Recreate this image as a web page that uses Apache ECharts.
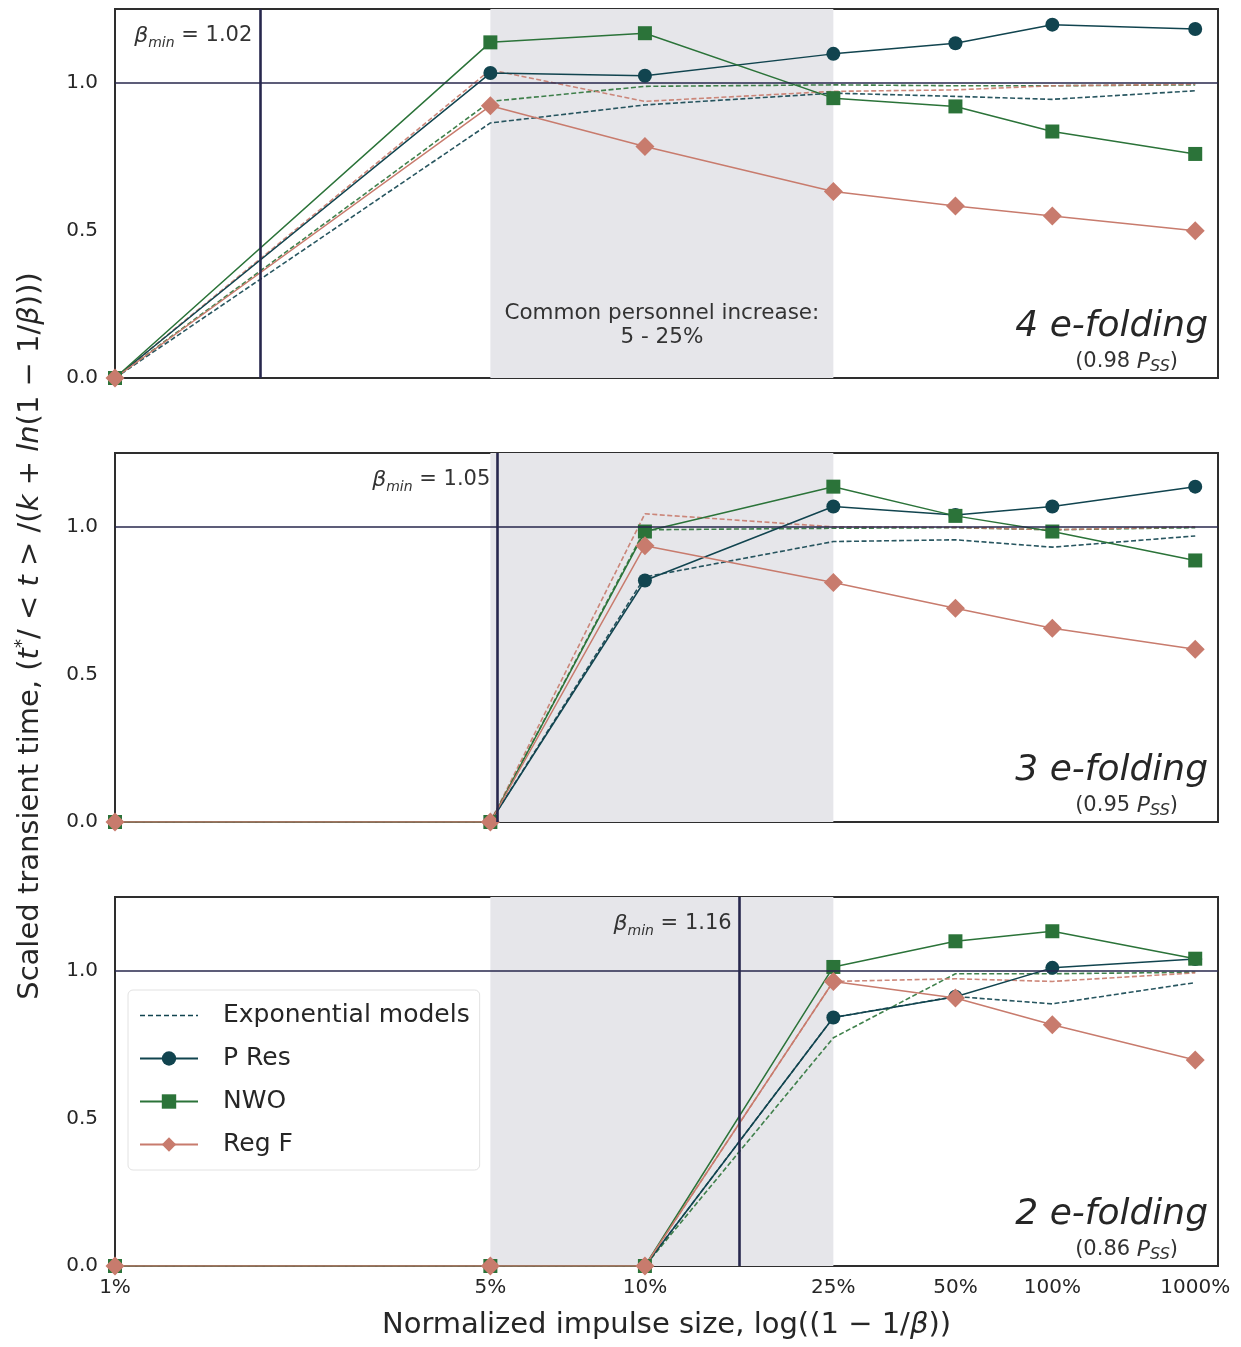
<!DOCTYPE html>
<html>
<head>
<meta charset="utf-8">
<script src="https://cdn.jsdelivr.net/npm/echarts@6/dist/echarts.min.js"></script>
<style>
  html, body { margin: 0; padding: 0; background: #fff; }
  #main { width: 1241px; height: 1347px; }
</style>
</head>
<body>
<div id="main"></div>
<script>
// impulse sizes (fraction) and their tick labels
var impulse = [0.01, 0.05, 0.10, 0.25, 0.50, 1.00, 10.0];
var tickLabels = ['1%', '5%', '10%', '25%', '50%', '100%', '1000%'];
var panelNames = ['4 e-folding', '3 e-folding', '2 e-folding'];
var panelPss = ['0.98', '0.95', '0.86'];
var betaMin = [1.0186, 1.052, 1.157];
var betaMinLabels = ['1.02', '1.05', '1.16'];

// one row per panel (4, 3, 2 e-folding)
var pRes = [
  [0, 1.033, 1.024, 1.098, 1.134, 1.197, 1.182],
  [0, 0, 0.818, 1.069, 1.040, 1.069, 1.136],
  [0, 0, 0, 0.842, 0.912, 1.010, 1.040]
];
var nwo = [
  [0, 1.137, 1.168, 0.948, 0.920, 0.835, 0.759],
  [0, 0, 0.984, 1.136, 1.037, 0.984, 0.886],
  [0, 0, 0, 1.013, 1.100, 1.134, 1.041]
];
var regF = [
  [0, 0.922, 0.784, 0.632, 0.583, 0.549, 0.499],
  [0, 0, 0.936, 0.811, 0.724, 0.656, 0.585],
  [0, 0, 0, 0.964, 0.908, 0.817, 0.698]
];
var expPRes = [
  [0, 0.864, 0.925, 0.965, 0.954, 0.944, 0.973],
  [0, 0, 0.830, 0.950, 0.956, 0.931, 0.969],
  [0, 0, 0, 0.842, 0.913, 0.888, 0.960]
];
var expNwo = [
  [0, 0.937, 0.988, 0.993, 0.990, 0.990, 0.993],
  [0, 0, 0.990, 0.995, 0.997, 0.990, 0.997],
  [0, 0, 0, 0.773, 0.990, 0.990, 0.995]
];
var expRegF = [
  [0, 1.044, 0.937, 0.971, 0.976, 0.990, 0.995],
  [0, 0, 1.044, 1.000, 0.998, 0.990, 1.000],
  [0, 0, 0, 0.964, 0.973, 0.964, 0.993]
];

var C_PRES = '#11444f', C_NWO = '#2b7339', C_REGF = '#c87b6d';
var C_REF = '#27274d', TXT = '#262626';
var FONT = '"DejaVu Sans", sans-serif';

// x axis is log10(1 - 1/beta), beta = 1 + impulse
var xs = impulse.map(function (p) { return Math.log10(1 - 1 / (1 + p)); });
var xMin = xs[0], xMax = 0;

function pairs(vals) {
  return vals.map(function (v, i) { return [xs[i], v]; });
}

// dashed legend sample for the model curves
var dashIcon = 'path://M0,0h0.01v0.01h-0.01z M0,6h5v1.6h-5z M8,6h5v1.6h-5z M16,6h5v1.6h-5z M24,6h5v1.6h-5z' +
  ' M32,6h5v1.6h-5z M40,6h5v1.6h-5z M48,6h5v1.6h-5z M56,6h2v1.6h-2z M57.99,13.6h0.01v0.01h-0.01z';

var gridTops = [9, 453, 897];
var grids = [], xAxes = [], yAxes = [], series = [];

gridTops.forEach(function (top, i) {
  grids.push({
    left: 115, top: top, width: 1103, height: 369,
    show: true, borderColor: '#2e2e2e', borderWidth: 2, backgroundColor: 'transparent'
  });
  xAxes.push({
    gridIndex: i, type: 'value', min: xMin, max: xMax,
    axisLine: { show: false }, axisTick: { show: false }, splitLine: { show: false },
    axisLabel: {
      show: i === 2, customValues: xs, fontSize: 20, color: TXT, fontFamily: FONT, margin: 12,
      formatter: function (v) {
        var best = 0;
        xs.forEach(function (x, k) { if (Math.abs(x - v) < Math.abs(xs[best] - v)) best = k; });
        return tickLabels[best];
      }
    },
    name: i === 2 ? '{n|Normalized impulse size, log((1 − 1/}{i|β}{n|))}' : '',
    nameLocation: 'middle', nameGap: 45,
    nameTextStyle: {
      rich: {
        n: { fontSize: 29, color: TXT, fontFamily: FONT },
        i: { fontSize: 29, color: TXT, fontFamily: FONT, fontStyle: 'italic' }
      }
    }
  });
  yAxes.push({
    gridIndex: i, type: 'value', min: 0, max: 1.25,
    axisLine: { show: false }, axisTick: { show: false }, splitLine: { show: false },
    axisLabel: {
      customValues: [0, 0.5, 1.0], fontSize: 20, color: TXT, fontFamily: FONT, margin: 17,
      formatter: function (v) { return v.toFixed(1); }
    }
  });

  // shaded band 5 - 25 % plus reference lines
  series.push({
    type: 'line', data: [], xAxisIndex: i, yAxisIndex: i, z: 1, silent: true,
    markArea: {
      silent: true,
      itemStyle: { color: '#e6e6ea' },
      label: i === 0 ? {
        show: true, position: 'insideBottom', distance: 29,
        formatter: 'Common personnel increase:\n5 - 25%',
        fontSize: 21.5, lineHeight: 24, color: '#333', fontFamily: FONT
      } : { show: false },
      data: [[{ xAxis: xs[1] }, { xAxis: xs[3] }]]
    },
    markLine: {
      silent: true, symbol: ['none', 'none'], label: { show: false },
      data: [
        { yAxis: 1, lineStyle: { color: C_REF, width: 1.6, type: 'solid' } },
        { xAxis: Math.log10(1 - 1 / betaMin[i]), lineStyle: { color: C_REF, width: 2.6, type: 'solid' } }
      ]
    }
  });

  var dashed = [
    [expPRes[i], C_PRES, 'Exponential models'],
    [expNwo[i], C_NWO, 'NWO model'],
    [expRegF[i], C_REGF, 'Reg F model']
  ];
  dashed.forEach(function (d) {
    series.push({
      name: d[2], type: 'line', xAxisIndex: i, yAxisIndex: i, z: 2,
      data: pairs(d[0]), symbol: 'none', silent: true,
      lineStyle: { color: d[1], width: 1.6, type: [5, 2.5], opacity: 0.9 },
      itemStyle: { color: d[1] }
    });
  });

  var solid = [
    [pRes[i], C_PRES, 'P Res', 'circle', 14],
    [nwo[i], C_NWO, 'NWO', 'rect', 14],
    [regF[i], C_REGF, 'Reg F', 'diamond', 19]
  ];
  solid.forEach(function (d) {
    series.push({
      name: d[2], type: 'line', xAxisIndex: i, yAxisIndex: i, z: 3,
      data: pairs(d[0]), symbol: d[3], symbolSize: d[4], showAllSymbol: true, silent: true,
      lineStyle: { color: d[1], width: 1.5 },
      itemStyle: { color: d[1], opacity: 1 }
    });
  });
});

var option = {
  backgroundColor: '#ffffff',
  animation: false,
  grid: grids,
  xAxis: xAxes,
  yAxis: yAxes,
  legend: {
    orient: 'vertical', left: 128, top: 990,
    data: [
      { name: 'Exponential models', icon: dashIcon },
      'P Res', 'NWO', 'Reg F'
    ],
    itemWidth: 58, itemHeight: 18, itemGap: 14,
    padding: [11, 10, 11, 11],
    borderColor: '#e2e2e2', borderWidth: 1, borderRadius: 5,
    backgroundColor: 'rgba(255,255,255,0.85)',
    selectedMode: false,
    textStyle: { fontSize: 25, lineHeight: 29, color: TXT, fontFamily: FONT, padding: [0, 0, 0, 20] }
  },
  series: series
};

var chart = echarts.init(document.getElementById('main'));
chart.setOption(option);

// panel annotations placed through the axes' own scales
var graphics = [];
for (var i = 0; i < 3; i++) {
  var br = chart.convertToPixel({ gridIndex: i }, [xMax, 0]);
  var tl = chart.convertToPixel({ gridIndex: i }, [xMin, 1.25]);
  var vx = chart.convertToPixel({ gridIndex: i }, [Math.log10(1 - 1 / betaMin[i]), 0])[0];
  graphics.push({
    type: 'text', x: vx - 9, y: tl[1] + 27, z: 10,
    style: {
      text: '{b|β}{s|min}{n| = ' + betaMinLabels[i] + '}',
      align: 'right', verticalAlign: 'middle',
      rich: {
        b: { fontSize: 22, fontFamily: FONT, fontStyle: 'italic', fill: '#333', lineHeight: 28, verticalAlign: 'middle' },
        s: { fontSize: 14, fontFamily: FONT, fontStyle: 'italic', fill: '#333', lineHeight: 28, verticalAlign: 'bottom' },
        n: { fontSize: 21, fontFamily: FONT, fill: '#333', lineHeight: 28, verticalAlign: 'middle' }
      }
    }
  });
  graphics.push({
    type: 'text', x: br[0] - 10, y: br[1] - 51, z: 10,
    style: {
      text: panelNames[i], align: 'right', verticalAlign: 'middle',
      fontSize: 36, fontStyle: 'italic', fontFamily: FONT, fill: TXT
    }
  });
  graphics.push({
    type: 'text', x: br[0] - 40, y: br[1] - 16, z: 10,
    style: {
      text: '{n|(' + panelPss[i] + ' }{p|P}{s|SS}{n|)}', align: 'right', verticalAlign: 'middle',
      rich: {
        n: { fontSize: 21, fontFamily: FONT, fill: '#333', lineHeight: 26, verticalAlign: 'middle' },
        p: { fontSize: 22, fontFamily: FONT, fontStyle: 'italic', fill: '#333', lineHeight: 26, verticalAlign: 'middle' },
        s: { fontSize: 16, fontFamily: FONT, fontStyle: 'italic', fill: '#333', lineHeight: 26, verticalAlign: 'bottom' }
      }
    }
  });
}

// shared y axis title
graphics.push({
  type: 'text', x: 30, y: 636, rotation: Math.PI / 2, z: 10,
  style: {
    text: '{n|Scaled transient time, }{m|(}{i|t}{u|*}{m|/ < }{i|t}{m| > /(}{i|k}{m| + }{i|ln}{m|(1 − 1/}{i|β}{m|)))}',
    align: 'center', verticalAlign: 'middle',
    rich: {
      n: { fontSize: 29, fontFamily: FONT, fill: TXT, lineHeight: 34, verticalAlign: 'middle' },
      m: { fontSize: 29, fontFamily: FONT, fill: TXT, lineHeight: 34, verticalAlign: 'middle' },
      i: { fontSize: 29, fontFamily: FONT, fontStyle: 'italic', fill: TXT, lineHeight: 34, verticalAlign: 'middle' },
      u: { fontSize: 18, fontFamily: FONT, fill: TXT, lineHeight: 34, verticalAlign: 'top' }
    }
  }
});

chart.setOption({ graphic: graphics });
</script>
</body>
</html>
